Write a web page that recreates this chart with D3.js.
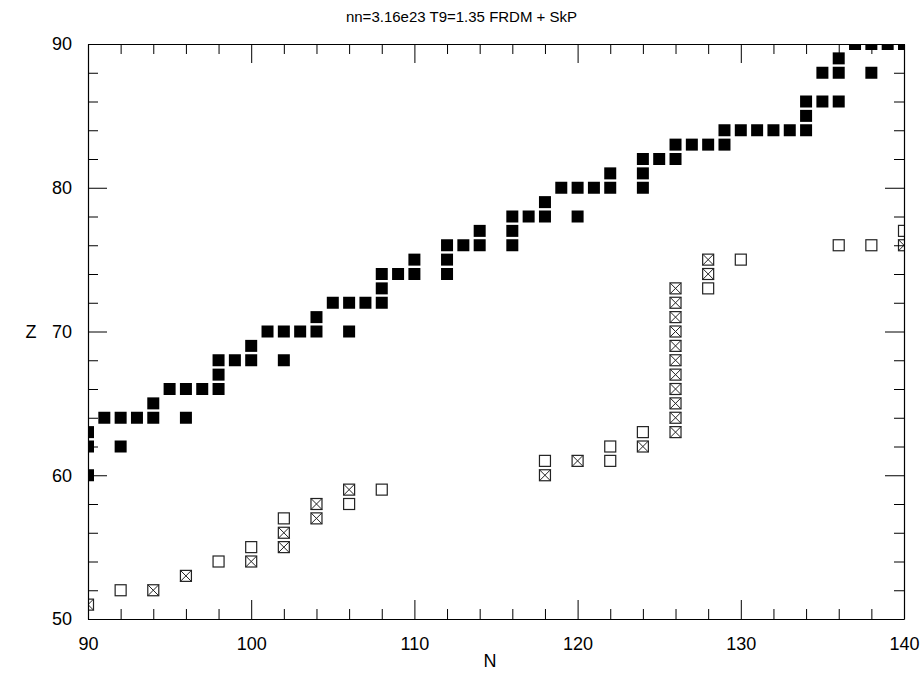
<!DOCTYPE html>
<html>
<head>
<meta charset="utf-8">
<script src="https://cdn.jsdelivr.net/npm/d3@7"></script>
<style>
  html, body { margin: 0; padding: 0; background: #fff; }
  svg { display: block; }
  .axis path { stroke: #000; stroke-width: 1.2; }
  .axis line { stroke: #000; stroke-width: 1; }
</style>
</head>
<body>
<svg id="chart" width="923" height="679"></svg>
<script>
// series: [N, Z]
const filled = [
  [90, 63], [90, 62], [90, 60], [91, 64], [92, 64], [92, 62], [93, 64],
  [94, 64], [94, 65], [95, 66], [96, 66], [96, 64], [97, 66],
  [98, 66], [98, 67], [98, 68], [99, 68], [100, 68], [100, 69],
  [101, 70], [102, 70], [102, 68], [103, 70], [104, 70], [104, 71],
  [105, 72], [106, 72], [106, 70], [107, 72], [108, 72], [108, 73], [108, 74],
  [109, 74], [110, 74], [110, 75], [112, 74], [112, 75], [112, 76],
  [113, 76], [114, 76], [114, 77], [116, 76], [116, 77], [116, 78],
  [117, 78], [118, 78], [118, 79], [119, 80], [120, 80], [120, 78],
  [121, 80], [122, 80], [122, 81], [124, 80], [124, 81], [124, 82],
  [125, 82], [126, 82], [126, 83], [127, 83], [128, 83], [129, 83], [129, 84],
  [130, 84], [131, 84], [132, 84], [133, 84], [134, 84], [134, 85], [134, 86],
  [135, 86], [135, 88], [136, 86], [136, 88], [136, 89],
  [137, 90], [138, 90], [138, 88], [139, 90], [140, 90]
];
const open = [
  [92, 52], [98, 54], [100, 55], [102, 57], [106, 58], [108, 59],
  [118, 61], [122, 62], [122, 61], [124, 63], [128, 73], [130, 75],
  [136, 76], [138, 76], [140, 77]
];
const crossed = [
  [90, 51], [94, 52], [96, 53], [100, 54], [102, 55], [102, 56], [104, 57],
  [104, 58], [106, 59], [118, 60], [120, 61], [124, 62],
  [126, 63], [126, 64], [126, 65], [126, 66], [126, 67], [126, 68],
  [126, 69], [126, 70], [126, 71], [126, 72], [126, 73],
  [128, 74], [128, 75], [140, 76]
];
const xTicks = d3.range(90, 141, 2);
const yTicks = d3.range(50, 91, 2);
const title = "nn=3.16e23 T9=1.35 FRDM + SkP";

const margin = { left: 88, right: 19, top: 44, bottom: 60 };
const width = 923, height = 679;
const font = "'Liberation Sans', Arial, Helvetica, sans-serif";
const svg = d3.select("#chart");

const x = d3.scaleLinear().domain([90, 140]).range([margin.left, width - margin.right]);
const y = d3.scaleLinear().domain([50, 90]).range([height - margin.bottom, margin.top]);

const major = 19, minor = 10, size = 12;
const fmt = (d) => (d % 10 === 0 ? d : "");

svg.append("clipPath").attr("id", "plot")
  .append("rect")
  .attr("x", x(90)).attr("y", y(90))
  .attr("width", x(140) - x(90)).attr("height", y(50) - y(90));

const marks = svg.append("g").attr("clip-path", "url(#plot)");

marks.selectAll("rect.filled")
  .data(filled)
  .join("rect")
  .attr("class", "filled")
  .attr("x", (d) => x(d[0]) - size / 2)
  .attr("y", (d) => y(d[1]) - size / 2)
  .attr("width", size).attr("height", size)
  .attr("fill", "#000");

marks.selectAll("rect.open")
  .data(open.concat(crossed))
  .join("rect")
  .attr("class", "open")
  .attr("x", (d) => x(d[0]) - size / 2 + 0.5)
  .attr("y", (d) => y(d[1]) - size / 2 + 0.5)
  .attr("width", size - 1).attr("height", size - 1)
  .attr("fill", "#fff")
  .attr("stroke", "#222")
  .attr("stroke-width", 1.2);

marks.selectAll("path.cross")
  .data(crossed)
  .join("path")
  .attr("class", "cross")
  .attr("d", (d) => {
    const cx = x(d[0]), cy = y(d[1]), h = size / 2 - 0.5;
    return `M${cx - h},${cy - h}L${cx + h},${cy + h}M${cx + h},${cy - h}L${cx - h},${cy + h}`;
  })
  .attr("stroke", "#222")
  .attr("stroke-width", 1);

function tickLen(d) {
  return d % 10 === 0 ? major : minor;
}

function styleAxis(g) {
  g.attr("font-family", font).attr("font-size", 18);
  g.selectAll(".tick text").attr("fill", "#000");
}

const axisBottomG = svg.append("g").attr("class", "axis")
  .attr("transform", `translate(0,${y(50)})`)
  .call(d3.axisBottom(x).tickValues(xTicks).tickFormat(fmt).tickSizeOuter(0))
  .call(styleAxis);
axisBottomG.selectAll(".tick line").attr("y2", (d) => -tickLen(d));
axisBottomG.selectAll(".tick text").attr("y", 18);

const axisTopG = svg.append("g").attr("class", "axis")
  .attr("transform", `translate(0,${y(90)})`)
  .call(d3.axisTop(x).tickValues(xTicks).tickFormat("").tickSizeOuter(0));
axisTopG.selectAll(".tick line").attr("y2", (d) => tickLen(d));

const axisLeftG = svg.append("g").attr("class", "axis")
  .attr("transform", `translate(${x(90)},0)`)
  .call(d3.axisLeft(y).tickValues(yTicks).tickFormat(fmt).tickSizeOuter(0))
  .call(styleAxis);
axisLeftG.selectAll(".tick line").attr("x2", (d) => tickLen(d));
axisLeftG.selectAll(".tick text").attr("x", -16);

const axisRightG = svg.append("g").attr("class", "axis")
  .attr("transform", `translate(${x(140)},0)`)
  .call(d3.axisRight(y).tickValues(yTicks).tickFormat("").tickSizeOuter(0));
axisRightG.selectAll(".tick line").attr("x2", (d) => -tickLen(d));

svg.append("text")
  .attr("x", width / 2)
  .attr("y", 22)
  .attr("text-anchor", "middle")
  .attr("font-family", font)
  .attr("font-size", 15)
  .text(title);

svg.append("text")
  .attr("x", (x(90) + x(140)) / 2 - 6)
  .attr("y", 667)
  .attr("text-anchor", "middle")
  .attr("font-family", font)
  .attr("font-size", 18)
  .text("N");

svg.append("text")
  .attr("x", 31)
  .attr("y", (y(50) + y(90)) / 2)
  .attr("text-anchor", "middle")
  .attr("dy", "0.35em")
  .attr("font-family", font)
  .attr("font-size", 18)
  .text("Z");
</script>
</body>
</html>
